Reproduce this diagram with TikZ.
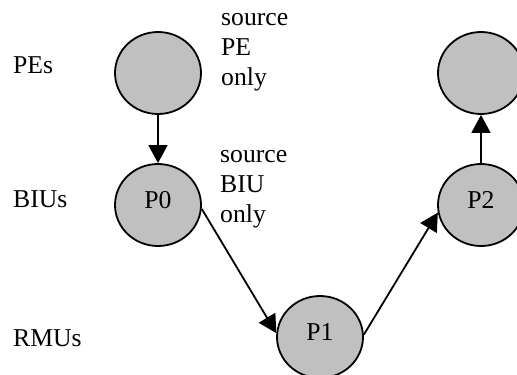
\documentclass[tikz,border=0pt]{standalone}
\usepackage{fontspec}
\setmainfont{Liberation Serif}
\usetikzlibrary{shapes.geometric,arrows.meta}
\definecolor{unitfill}{RGB}{192,192,192}
\begin{document}
\begin{tikzpicture}[x=1pt,y=-1pt,
  unit/.style={ellipse,draw=black,line width=1.8pt,fill=unitfill,
    minimum width=86pt,minimum height=82pt,inner sep=0pt,text depth=10pt},
  txt/.style={inner sep=0pt,anchor=base west,align=left},
  flow/.style={line width=1.8pt,-{Triangle[width=19pt,length=18pt]}},
  every node/.style={font=\fontsize{25.7}{29.7}\selectfont}]
\useasboundingbox (0,0) rectangle (517,375);

% processing units in three layers
\node[unit] (pe0) at (158,73) {};
\node[unit] (p0)  at (158,205) {P0};
\node[unit] (p1)  at (320,337) {P1};
\node[unit] (p2)  at (481,205) {P2};
\node[unit] (pe2) at (481,73) {};

% layer names
\node[txt] (lpe)  at (13,73)  {PEs};
\node[txt] (lbiu) at (13,207) {BIUs};
\node[txt] (lrmu) at (13,346) {RMUs};

% notes (anchored at the baseline of their last line)
\node[txt] (npe)  at (221,85)  {source\\PE\\only};
\node[txt] (nbiu) at (220,222) {source\\BIU\\only};

% message route
\draw[flow] (pe0.south) -- (p0.north);
\draw[flow] (p0.-5) -- (p1.175);
\draw[flow] (p1.3) -- (p2.190);
\draw[flow] (p2.north) -- (pe2.south);
\end{tikzpicture}
\end{document}
